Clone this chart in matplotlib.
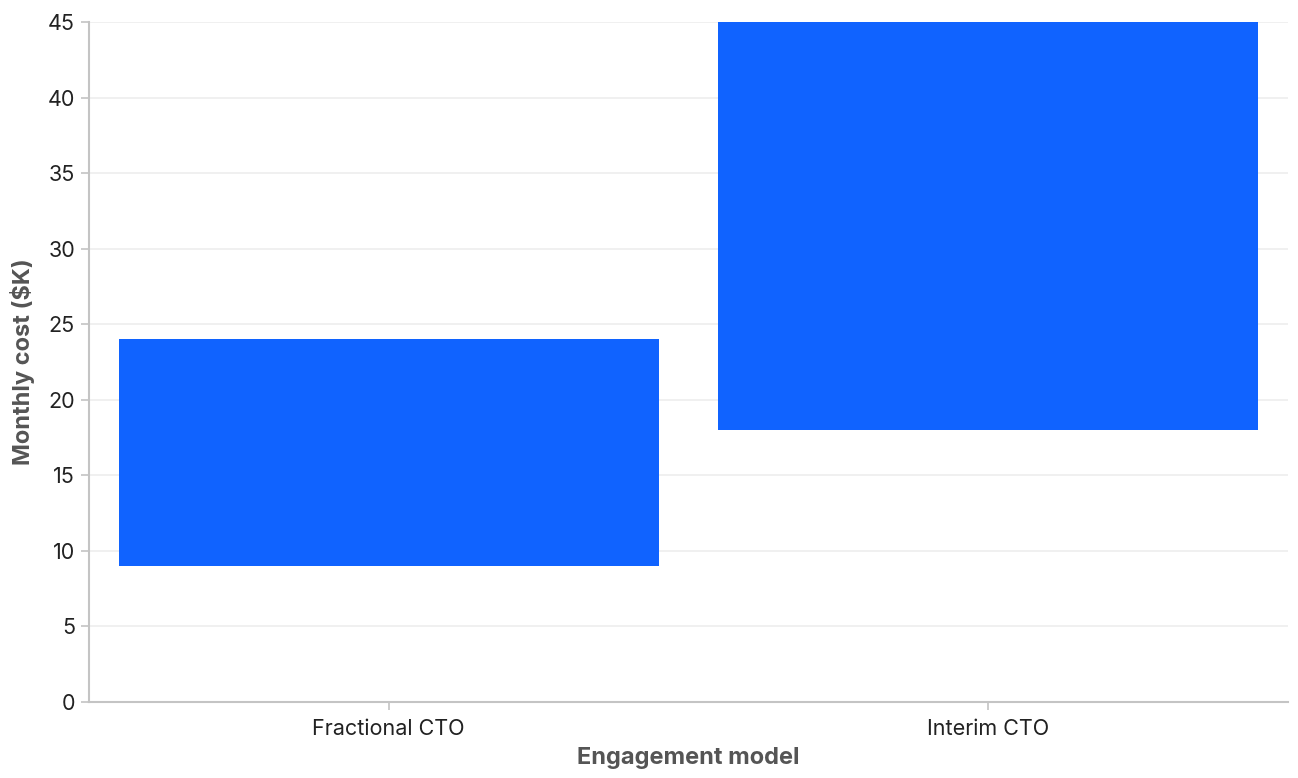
import matplotlib

matplotlib.use("Agg")
import matplotlib.pyplot as plt

plt.rcParams["font.family"] = ["Inter", "DejaVu Sans"]

# --- data ---
models = ["Fractional CTO", "Interim CTO"]
cost_low = [9, 18]
cost_high = [24, 45]
y_ticks = [0, 5, 10, 15, 20, 25, 30, 35, 40, 45]

BAR_COLOR = "#1063ff"
AXIS_COLOR = "#c4c4c4"
GRID_COLOR = "#eeeeee"

fig = plt.figure(figsize=(12.98, 7.78), dpi=100)
ax = fig.add_axes([89 / 1298, 1 - 702 / 778, (1288 - 89) / 1298, (702 - 22) / 778])

x = list(range(len(models)))
heights = [h - l for l, h in zip(cost_low, cost_high)]
ax.bar(x, heights, bottom=cost_low, width=0.9, color=BAR_COLOR, zorder=3)

ax.set_xlim(-0.5, len(models) - 0.5)
ax.set_ylim(0, 45)
ax.set_yticks(y_ticks)
ax.set_xticks(x)
ax.set_xticklabels(models)

ax.grid(axis="y", color=GRID_COLOR, linewidth=1.2, zorder=0)
ax.set_axisbelow(True)

for side in ("top", "right"):
    ax.spines[side].set_visible(False)
for side in ("left", "bottom"):
    ax.spines[side].set_color(AXIS_COLOR)
    ax.spines[side].set_linewidth(1.5)

ax.tick_params(axis="both", colors=AXIS_COLOR, labelcolor="#222222", labelsize=15.5,
               length=6, width=1.2)
ax.tick_params(axis="x", pad=6)
ax.tick_params(axis="y", pad=4)

ax.set_xlabel("Engagement model", fontsize=17, fontweight="bold", color="#555555", labelpad=6)
ax.set_ylabel("Monthly cost ($K)", fontsize=17, fontweight="bold", color="#555555", labelpad=9)

fig.savefig("out.png", dpi=100)
